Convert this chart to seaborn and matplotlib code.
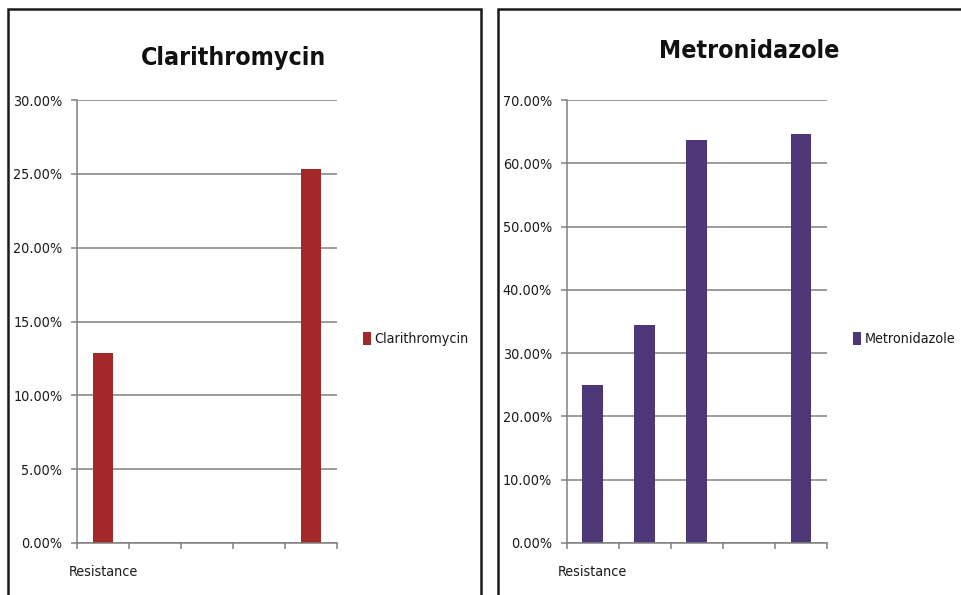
import matplotlib
matplotlib.use("Agg")
import matplotlib.pyplot as plt
import matplotlib.font_manager as fm
from matplotlib.patches import Rectangle
from matplotlib.ticker import FixedLocator
import numpy as np
import seaborn as sns

# Category slots along the x axis (only the first one carries a label)
slots = ["Resistance", "s2", "s3", "s4", "s5"]
slot_labels = ["Resistance", "", "", "", ""]

# Resistance rates in percent; NaN = no bar in that slot
clarithromycin = [12.9, np.nan, np.nan, np.nan, 25.3]
metronidazole = [25.0, 34.5, 63.7, np.nan, 64.7]

panels = [
    ("Clarithromycin", clarithromycin, "#A3282A", 30, 5),
    ("Metronidazole", metronidazole, "#4E3779", 70, 10),
]

sns.set_style("white")
plt.rcParams["font.family"] = ["DejaVu Sans"]


def pick_font(bold):
    """Prefer a narrow/condensed sans face, else Roboto."""
    found = []
    for f in fm.fontManager.ttflist:
        p = f.fname.lower()
        if "italic" in p or "oblique" in p:
            continue
        if not ("narrow" in p or "condensed" in p):
            continue
        if ("bold" in p) != bold:
            continue
        rank = 0 if "liberation" in p else (1 if "dejavu" in p else 2)
        found.append((rank, f.fname))
    if found:
        return fm.FontProperties(fname=sorted(found)[0][1])
    return fm.FontProperties(family="Roboto", weight="bold" if bold else "normal")


reg = pick_font(False)
bold = pick_font(True)

W, H = 961, 595
fig = plt.figure(figsize=(W / 100, H / 100), dpi=100)
renderer = fig.canvas.get_renderer()


def text_width(s, prop, size):
    t = fig.text(0, 0, s, fontproperties=prop, size=size)
    w = t.get_window_extent(renderer).width
    t.remove()
    return w


# scale the type from the width of a reference label, a little larger for legibility
reg_size = 1.07 * 12 * 88 / text_width("Clarithromycin", reg, 12)
title_size = 1.10 * 22 * 168 / text_width("Clarithromycin", bold, 22)
reg = reg.copy()
reg.set_size(reg_size)
bold = bold.copy()
bold.set_size(title_size)


def fx(px):
    return px / W


def fy(py):
    return (H - py) / H


# panel geometry in pixels: (box_left, box_right, axes_left, axes_right, title_x, title_baseline, legend_x)
geom = [
    (8, 481, 77, 337, 234, 65, 363),
    (498, 975, 566.7, 827, 749, 58, 853),
]
ax_top, ax_bottom = 100, 543
grid_col = "#808080"
txt_col = "#1a1a1a"

for (name, vals, col, ymax, step), (bl, br, al, ar, tx, tb, lx) in zip(panels, geom):
    # chart-area frame
    fig.add_artist(Rectangle((fx(bl), fy(H + 10)), fx(br - bl), (H + 10 - 9) / H,
                             transform=fig.transFigure, fill=False,
                             lw=1.8, ec="#1a1a1a"))

    ax = fig.add_axes([fx(al), fy(ax_bottom), fx(ar - al), (ax_bottom - ax_top) / H])
    sns.barplot(x=slots, y=vals, order=slots, color=col, width=0.4,
                errorbar=None, linewidth=0, saturation=1, label=name, ax=ax)

    ax.set_xlim(-0.5, len(slots) - 0.5)
    ax.set_ylim(0, ymax)
    yt = np.arange(0, ymax + step / 2, step)
    ax.set_yticks(yt, [f"{v:.2f}%" for v in yt], fontproperties=reg, color=txt_col)
    ax.yaxis.grid(True, color=grid_col, lw=1.1)
    ax.set_axisbelow(True)

    # labels at slot centres, tick marks at slot boundaries
    ax.set_xticks(range(len(slots)), slot_labels, fontproperties=reg, color=txt_col)
    ax.xaxis.set_minor_locator(FixedLocator(np.arange(-0.5, len(slots), 1.0)))
    ax.tick_params(axis="x", which="major", length=0, pad=16)
    ax.tick_params(axis="x", which="minor", bottom=True, length=4, width=1.1,
                   color=grid_col, direction="out")
    ax.tick_params(axis="y", left=True, length=4, width=1.1, color=grid_col,
                   pad=6.5, direction="out")
    ax.set_xlabel("")
    ax.set_ylabel("")

    for side in ("top", "right"):
        ax.spines[side].set_visible(False)
    for side in ("left", "bottom"):
        ax.spines[side].set_color(grid_col)
        ax.spines[side].set_linewidth(1.1)

    fig.text(fx(tx), fy(tb), name, ha="center", va="baseline",
             fontproperties=bold, color="#111111")

    ax.legend(loc="center left", bbox_to_anchor=(fx(lx), fy(339)),
              bbox_transform=fig.transFigure, frameon=False, prop=reg,
              handlelength=0.55, handleheight=1.05, handletextpad=0.25,
              borderpad=0, borderaxespad=0, labelcolor=txt_col)

fig.savefig("out.png", dpi=100, facecolor="white")
